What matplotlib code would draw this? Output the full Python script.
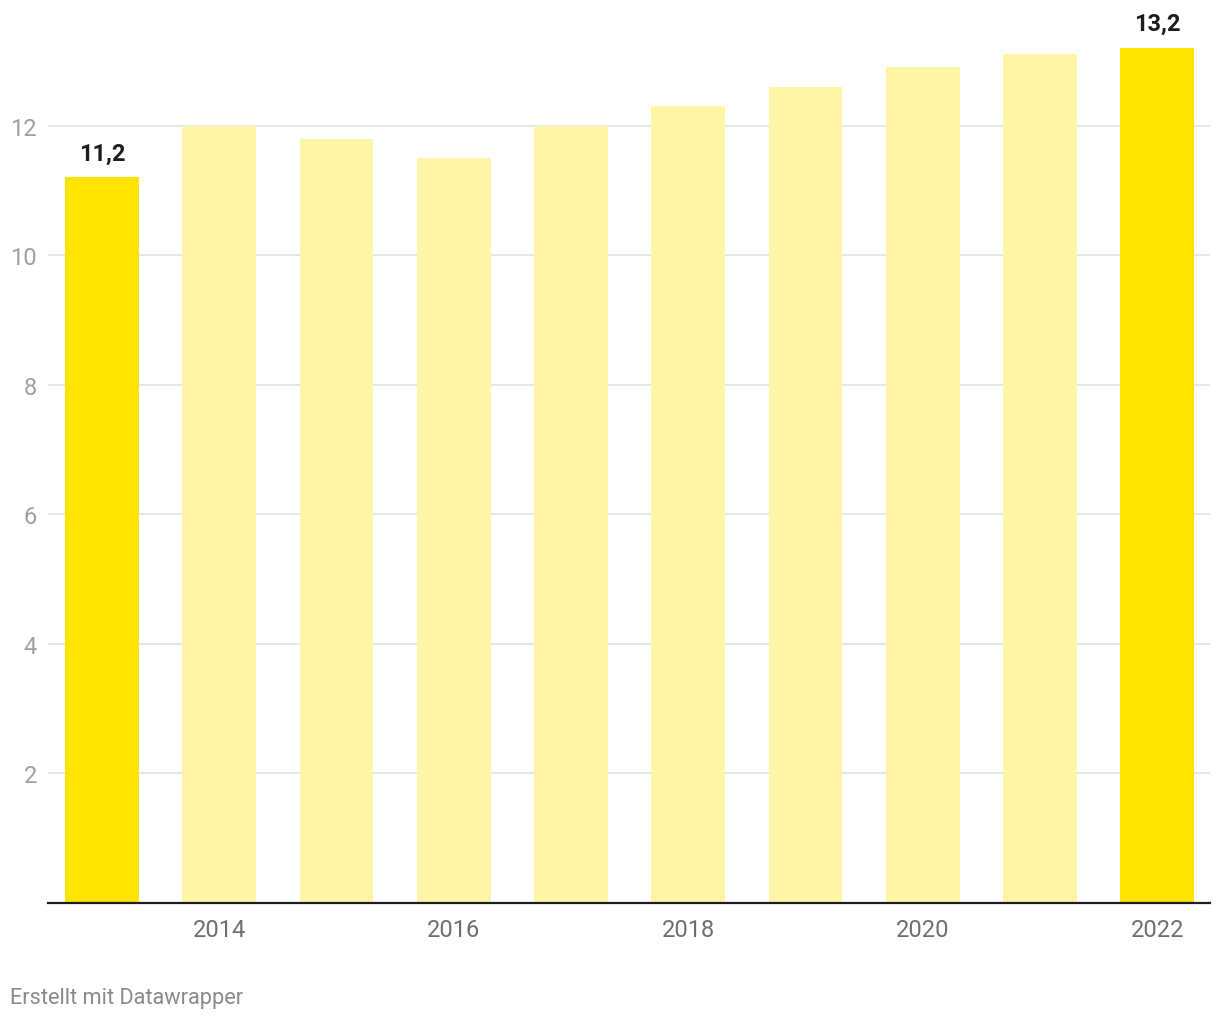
import matplotlib
matplotlib.use("Agg")
import matplotlib.pyplot as plt

# Data
years = [2013, 2014, 2015, 2016, 2017, 2018, 2019, 2020, 2021, 2022]
values = [11.2, 12.0, 11.8, 11.5, 12.0, 12.3, 12.6, 12.9, 13.1, 13.2]
highlight = [2013, 2022]
y_ticks = [2, 4, 6, 8, 10, 12]
x_ticks = [2014, 2016, 2018, 2020, 2022]

plt.rcParams['font.family'] = ['Roboto', 'DejaVu Sans']

fig = plt.figure(figsize=(12.2, 10.2), dpi=100)
ax = fig.add_axes([48 / 1220, 116 / 1020, 1162 / 1220, 894 / 1020])

colors = ['#ffe400' if y in highlight else '#fff5a6' for y in years]
ax.bar(years, values, width=0.63, color=colors, zorder=2)

# value labels on highlighted bars
for y, v in zip(years, values):
    if y in highlight:
        ax.text(y, v + 0.2, f"{v:.1f}".replace('.', ','), ha='center', va='bottom',
                fontsize=17, fontweight='bold', color='#1d1d1d')

ax.set_xlim(2013 - 0.46, 2022 + 0.45)
ax.set_ylim(0, 13.8)

ax.set_yticks(y_ticks)
ax.set_yticklabels([str(t) for t in y_ticks])
ax.set_xticks(x_ticks)
ax.set_xticklabels([str(t) for t in x_ticks])

ax.grid(axis='y', color='#e3e3e3', linewidth=1.2, zorder=0)
ax.tick_params(axis='y', length=0, pad=8, labelsize=17, labelcolor='#a0a0a0')
ax.tick_params(axis='x', length=0, pad=11, labelsize=17, labelcolor='#6e6e6e')

for side in ['top', 'right', 'left']:
    ax.spines[side].set_visible(False)
ax.spines['bottom'].set_color('#1d1d1d')
ax.spines['bottom'].set_linewidth(1.6)
ax.spines['bottom'].set_zorder(3)

fig.text(10 / 1220, 1 - 999 / 1020, 'Erstellt mit Datawrapper', ha='left', va='center',
         fontsize=15.7, color='#8a8a8a')

fig.savefig('out.png', dpi=100, facecolor='white')
